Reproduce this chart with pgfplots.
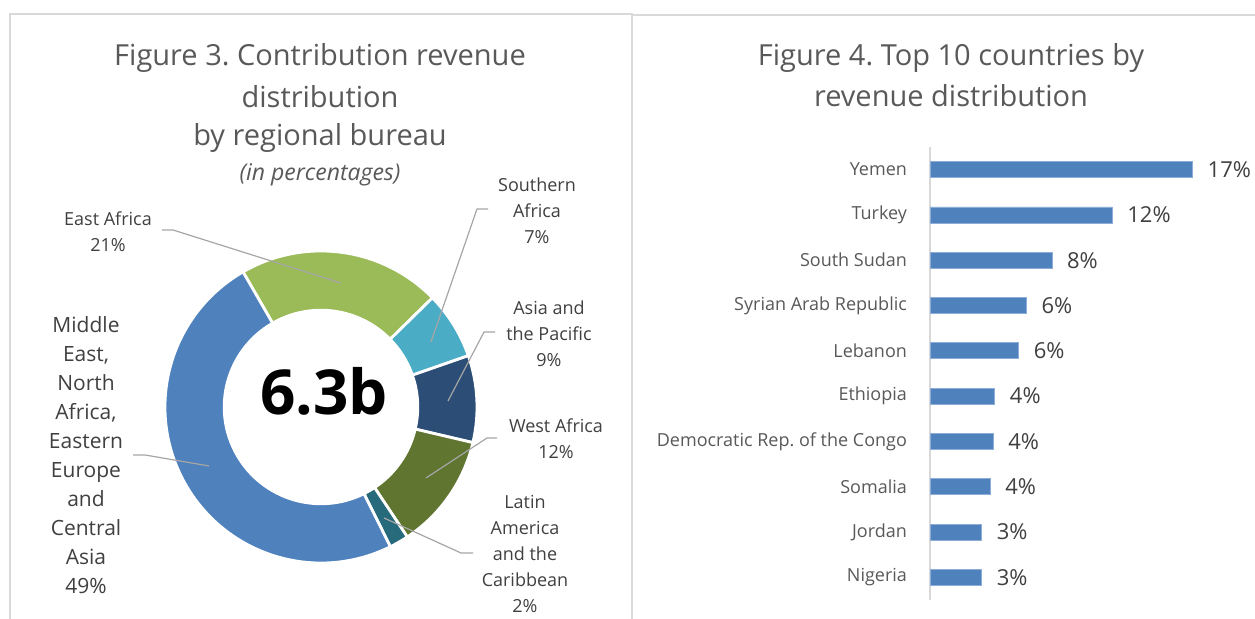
\documentclass[border=0pt]{standalone}
\usepackage{pgfplots}
\pgfplotsset{compat=1.18}
\usepackage{pgfplotstable}
\usepackage{fontspec}
\setmainfont{Open Sans}
\frenchspacing

\definecolor{txt}{HTML}{595959}
\definecolor{val}{HTML}{404040}
\definecolor{lead}{HTML}{A6A6A6}
\definecolor{frame}{HTML}{D9D9D9}
\definecolor{barblue}{HTML}{4F81BD}
\definecolor{baredge}{HTML}{8EAEDA}
\definecolor{eastaf}{HTML}{9BBB59}
\definecolor{southaf}{HTML}{4BACC6}
\definecolor{asiapac}{HTML}{2C4D75}
\definecolor{westaf}{HTML}{5F7530}
\definecolor{latam}{HTML}{276A7C}
\definecolor{mena}{HTML}{4F81BD}

% donut: share in percent, clockwise from 120 deg
\pgfplotstableread{
share color
21 eastaf
7  southaf
9  asiapac
12 westaf
2  latam
49 mena
}\donutdata

% top 10 countries, pos 9 = top row
\pgfplotstableread{
pos pct
9 17.0
8 11.8
7 7.9
6 6.25
5 5.75
4 4.2
3 4.1
2 3.9
1 3.35
0 3.35
}\bardata

\begin{document}
\begin{tikzpicture}[x=0.5pt,y=0.5pt]
\useasboundingbox (0,0) rectangle (1255,619);
\fill[white] (0,0) rectangle (1255,619);

% panel frames
\draw[frame,line width=0.6pt] (10,0)--(10,605)--(632,605)--(632,0);
\draw[frame,line width=0.6pt] (632,604)--(1255,604);

% ---- left: donut ----
\begin{axis}[at={(82.5pt,28pt)},anchor=south west,
  x=78pt,y=78pt,xmin=-1,xmax=1,ymin=-1,ymax=1,
  hide axis,clip=false]
\pgfplotsextra{
  \xdef\angA{120}
  \foreach \i in {0,...,5}{
    \pgfplotstablegetelem{\i}{share}\of\donutdata
    \pgfmathsetmacro\angB{\angA-3.6*\pgfplotsretval}
    \pgfplotstablegetelem{\i}{color}\of\donutdata
    \edef\col{\pgfplotsretval}
    \filldraw[fill=\col,draw=white,line width=1.4pt]
      ([shift={(\angA:78pt)}]axis cs:0,0)
      arc[start angle=\angA,end angle=\angB,radius=78pt]
      -- ([shift={(\angB:48.4pt)}]axis cs:0,0)
      arc[start angle=\angB,end angle=\angA,radius=48.4pt] -- cycle;
    \xdef\angA{\angB}
  }
}
\end{axis}

\node[font=\fontsize{31}{34}\selectfont\bfseries] at (324,228) {6.3b};

% leader lines
\begin{scope}[lead,line width=0.6pt]
\draw (162,389)--(173,389)--(341,336);
\draw (488,410)--(477,410)--(431,277);
\draw (495,287)--(484,287)--(448,218);
\draw (497,181)--(487,181)--(426,141);
\draw (473,66)--(461,66)--(384,101);
\draw (133,164)--(145,164)--(209,153);
\end{scope}

% donut labels
\begin{scope}[text=val,align=center,font=\fontsize{9}{13}\selectfont]
\node at (108,387) {East Africa\\21\%};
\node at (537,408) {Southern\\Africa\\7\%};
\node at (549,285.5) {Asia and\\the Pacific\\9\%};
\node at (556,180) {West Africa\\12\%};
\node at (525,65) {Latin\\America\\and the\\Caribbean\\2\%};
\node[font=\fontsize{10.5}{14.5}\selectfont] at (86,163.5)
  {Middle\\East,\\North\\Africa,\\Eastern\\Europe\\and\\Central\\Asia\\49\%};
\end{scope}

% titles
\begin{scope}[text=txt,font=\fontsize{14.5}{20}\selectfont]
\node[anchor=base] at (320,553) {Figure 3. Contribution revenue};
\node[anchor=base] at (320,511.5) {distribution};
\node[anchor=base] at (320,473) {by regional bureau};
\node[anchor=base,font=\fontsize{11.5}{14}\selectfont\itshape] at (320,438) {(in percentages)};
\node[anchor=base] at (951,553) {Figure 4. Top 10 countries by};
\node[anchor=base] at (951,512) {revenue distribution};
\end{scope}

% ---- right: bars ----
\begin{axis}[at={(465pt,9.5pt)},anchor=south west,
  xbar,bar width=8pt,
  x=7.725pt,y=22.65pt,
  xmin=0,xmax=20,ymin=-0.5,ymax=9.5,
  axis x line=none,axis y line*=left,
  y axis line style={draw=frame,line width=0.8pt},
  ytick={0,...,9},
  yticklabels={Nigeria,Jordan,Somalia,Democratic Rep. of the Congo,Ethiopia,
    Lebanon,Syrian Arab Republic,South Sudan,Turkey,Yemen},
  major tick length=0pt,
  yticklabel style={font=\fontsize{9}{11}\selectfont,text=txt,xshift=-8pt},
  point meta=x,
  nodes near coords={\pgfmathprintnumber[fixed,precision=0]{\pgfplotspointmeta}\%},
  nodes near coords style={font=\fontsize{11}{13}\selectfont,text=val,xshift=4pt},
  /pgf/number format/assume math mode=true,
  clip=false]
\addplot[fill=barblue,draw=baredge,line width=0.4pt] table[x=pct,y=pos] \bardata;
\end{axis}
\end{tikzpicture}
\end{document}
